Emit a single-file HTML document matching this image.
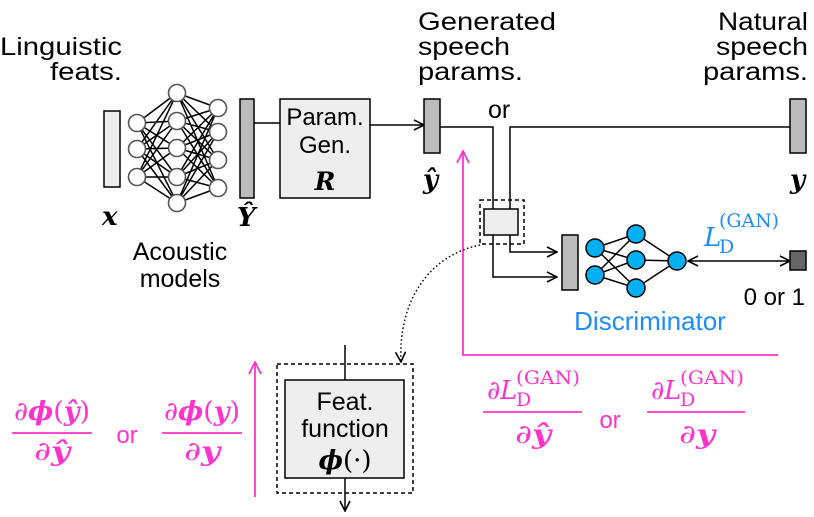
<!DOCTYPE html>
<html><head><meta charset="utf-8"><style>
html,body{margin:0;padding:0;background:#fff;width:814px;height:517px;overflow:hidden}
text{font-family:"Liberation Sans",sans-serif}
.m{font-family:"DejaVu Serif","Liberation Serif",serif;font-style:italic;font-weight:bold}
.s{font-family:"DejaVu Serif","Liberation Serif",serif}
</style></head><body>
<svg width="814" height="517" viewBox="0 0 814 517" xmlns="http://www.w3.org/2000/svg">
<defs>
<marker id="a" markerWidth="12" markerHeight="12" refX="11" refY="6" orient="auto" markerUnits="userSpaceOnUse"><path d="M1,1 L11,6 L1,11" fill="none" stroke="#000" stroke-width="1.6"/></marker>
<marker id="ab" markerWidth="12" markerHeight="12" refX="1" refY="6" orient="auto" markerUnits="userSpaceOnUse"><path d="M11,1 L1,6 L11,11" fill="none" stroke="#000" stroke-width="1.6"/></marker>
<marker id="ap" markerWidth="14" markerHeight="14" refX="13" refY="7" orient="auto" markerUnits="userSpaceOnUse"><path d="M1,1 L13,7 L1,13" fill="none" stroke="#ff33cc" stroke-width="1.8"/></marker>
</defs>
<g font-size="25" fill="#000">
<text x="122" y="55" text-anchor="end" textLength="122" lengthAdjust="spacingAndGlyphs">Linguistic</text>
<text x="122" y="80" text-anchor="end" textLength="72" lengthAdjust="spacingAndGlyphs">feats.</text>
<text x="418" y="30" textLength="138" lengthAdjust="spacingAndGlyphs">Generated</text>
<text x="418" y="55" textLength="92" lengthAdjust="spacingAndGlyphs">speech</text>
<text x="418" y="80" textLength="105" lengthAdjust="spacingAndGlyphs">params.</text>
<text x="808" y="30" text-anchor="end" textLength="90" lengthAdjust="spacingAndGlyphs">Natural</text>
<text x="808" y="55" text-anchor="end" textLength="92" lengthAdjust="spacingAndGlyphs">speech</text>
<text x="808" y="80" text-anchor="end" textLength="105" lengthAdjust="spacingAndGlyphs">params.</text>
<text x="488" y="118">or</text>
<text x="180" y="260" text-anchor="middle">Acoustic</text>
<text x="180" y="287" text-anchor="middle">models</text>
</g>
<rect x="104" y="111" width="16" height="76" fill="#eee" stroke="#000" stroke-width="1.5"/>
<text class="m" x="102" y="225" font-size="26">x</text>
<g stroke="#000" stroke-width="1.5">
<path d="M137,123L177,93M137,123L177,121M137,123L177,148M137,123L177,177M137,123L177,203
M137,149L177,93M137,149L177,121M137,149L177,148M137,149L177,177M137,149L177,203
M137,177L177,93M137,177L177,121M137,177L177,148M137,177L177,177M137,177L177,203
M177,93L218,108M177,93L218,132M177,93L218,160M177,93L218,188
M177,121L218,108M177,121L218,132M177,121L218,160M177,121L218,188
M177,148L218,108M177,148L218,132M177,148L218,160M177,148L218,188
M177,177L218,108M177,177L218,132M177,177L218,160M177,177L218,188
M177,203L218,108M177,203L218,132M177,203L218,160M177,203L218,188"/>
</g>
<g fill="#fff" stroke="#555" stroke-width="1.6">
<circle cx="137" cy="123" r="8.5"/><circle cx="137" cy="149" r="8.5"/><circle cx="137" cy="177" r="8.5"/>
<circle cx="177" cy="93" r="8.5"/><circle cx="177" cy="121" r="8.5"/><circle cx="177" cy="148" r="8.5"/><circle cx="177" cy="177" r="8.5"/><circle cx="177" cy="203" r="8.5"/>
<circle cx="218" cy="108" r="8.5"/><circle cx="218" cy="132" r="8.5"/><circle cx="218" cy="160" r="8.5"/><circle cx="218" cy="188" r="8.5"/>
</g>
<rect x="240" y="99" width="14" height="99" fill="#bbb" stroke="#000" stroke-width="1.5"/>
<text class="m" x="237" y="226" font-size="26">Ŷ</text>
<line x1="254" y1="123" x2="280" y2="123" stroke="#000" stroke-width="1.5"/>
<rect x="280" y="99" width="90" height="99" fill="#eee" stroke="#000" stroke-width="1.5"/>
<text x="325" y="125" font-size="24" text-anchor="middle">Param.</text>
<text x="325" y="153" font-size="24" text-anchor="middle">Gen.</text>
<text class="m" x="325" y="190" font-size="25" text-anchor="middle">R</text>
<line x1="370" y1="125" x2="424" y2="125" stroke="#000" stroke-width="1.5" marker-end="url(#a)"/>
<rect x="424" y="99" width="16" height="54" fill="#bbb" stroke="#000" stroke-width="1.5"/>
<text class="m" x="423" y="188" font-size="26">ŷ</text>
<rect x="790" y="99" width="16" height="54" fill="#bbb" stroke="#000" stroke-width="1.5"/>
<text class="m" x="790" y="188" font-size="26">y</text>
<g stroke="#000" stroke-width="1.5" fill="none">
<path d="M440,127 H493 V277 H557" marker-end="url(#a)"/>
<path d="M790,127 H510 V252 H557" marker-end="url(#a)"/>
</g>
<rect x="480" y="200" width="44" height="44" fill="none" stroke="#000" stroke-width="1.5" stroke-dasharray="4,3"/>
<rect x="484" y="209" width="34" height="26" fill="#eee" stroke="#000" stroke-width="1.5"/>
<path d="M778,355 H463 V151" fill="none" stroke="#ff33cc" stroke-width="1.8" marker-end="url(#ap)"/>
<line x1="255" y1="497" x2="255" y2="362" stroke="#ff33cc" stroke-width="1.8" marker-end="url(#ap)"/>
<path d="M480,245 C430,255 398,300 401,362" fill="none" stroke="#000" stroke-width="1.5" stroke-dasharray="1.5,2.5" marker-end="url(#a)"/>
<rect x="562" y="235" width="16" height="55" fill="#bbb" stroke="#000" stroke-width="1.5"/>
<g stroke="#000" stroke-width="1.5">
<path d="M595,248L636,234M595,248L636,260M595,248L636,288M595,275L636,234M595,275L636,260M595,275L636,288M636,234L677,261M636,260L677,261M636,288L677,261"/>
</g>
<g fill="#00b0f0" stroke="#000" stroke-width="1.5">
<circle cx="595" cy="248" r="9"/><circle cx="595" cy="275" r="9"/>
<circle cx="636" cy="234" r="9"/><circle cx="636" cy="260" r="9"/><circle cx="636" cy="288" r="9"/>
<circle cx="677" cy="261" r="9"/>
</g>
<line x1="688" y1="261" x2="790" y2="261" stroke="#000" stroke-width="1.5" marker-start="url(#ab)" marker-end="url(#a)"/>
<rect x="790" y="251" width="16" height="19" fill="#666" stroke="#000" stroke-width="1.5"/>
<g fill="#1a8cff">
<text class="s" x="704" y="246" font-size="26" font-style="italic">L</text>
<text class="s" x="719" y="253" font-size="19">D</text>
<text class="s" x="719" y="227" font-size="19" textLength="60" lengthAdjust="spacingAndGlyphs">(GAN)</text>
</g>
<text x="805" y="305" font-size="24" text-anchor="end">0 or 1</text>
<text x="650" y="330" font-size="26" fill="#1a8cff" text-anchor="middle">Discriminator</text>
<line x1="345" y1="345" x2="345" y2="380" stroke="#000" stroke-width="1.5"/>
<rect x="277" y="364" width="136" height="129" fill="none" stroke="#000" stroke-width="1.5" stroke-dasharray="4,3"/>
<rect x="285" y="380" width="119" height="98" fill="#eee" stroke="#000" stroke-width="1.5"/>
<text x="345" y="410" font-size="25" text-anchor="middle">Feat.</text>
<text x="345" y="437" font-size="25" text-anchor="middle">function</text>
<text class="s" x="345" y="469" font-size="26" text-anchor="middle"><tspan font-weight="bold" font-style="italic">ϕ</tspan>(·)</text>
<line x1="345" y1="478" x2="345" y2="511" stroke="#000" stroke-width="1.5" marker-end="url(#a)"/>
<g fill="#ff33cc" stroke="none">
<text class="s" x="14" y="420" font-size="26" textLength="76" lengthAdjust="spacingAndGlyphs">∂<tspan font-weight="bold" font-style="italic">ϕ</tspan>(<tspan font-weight="bold" font-style="italic">ŷ</tspan>)</text>
<text class="s" x="34" y="460" font-size="26" textLength="36" lengthAdjust="spacingAndGlyphs">∂<tspan font-weight="bold" font-style="italic">ŷ</tspan></text>
<text x="127" y="443" font-size="24" text-anchor="middle">or</text>
<text class="s" x="164" y="420" font-size="26" textLength="76" lengthAdjust="spacingAndGlyphs">∂<tspan font-weight="bold" font-style="italic">ϕ</tspan>(<tspan font-weight="bold" font-style="italic">y</tspan>)</text>
<text class="s" x="184" y="460" font-size="26" textLength="36" lengthAdjust="spacingAndGlyphs">∂<tspan font-weight="bold" font-style="italic">y</tspan></text>
<text class="s" x="487" y="399" font-size="26" font-style="italic" textLength="30" lengthAdjust="spacingAndGlyphs">∂L</text>
<text class="s" x="516" y="406" font-size="19">D</text>
<text class="s" x="516" y="384" font-size="19" textLength="64" lengthAdjust="spacingAndGlyphs">(GAN)</text>
<text class="s" x="515" y="443" font-size="26" textLength="36" lengthAdjust="spacingAndGlyphs">∂<tspan font-weight="bold" font-style="italic">ŷ</tspan></text>
<text x="610" y="428" font-size="24" text-anchor="middle">or</text>
<text class="s" x="651" y="399" font-size="26" font-style="italic" textLength="30" lengthAdjust="spacingAndGlyphs">∂L</text>
<text class="s" x="680" y="406" font-size="19">D</text>
<text class="s" x="680" y="384" font-size="19" textLength="64" lengthAdjust="spacingAndGlyphs">(GAN)</text>
<text class="s" x="679" y="443" font-size="26" textLength="36" lengthAdjust="spacingAndGlyphs">∂<tspan font-weight="bold" font-style="italic">y</tspan></text>
</g>
<g stroke="#ff33cc" stroke-width="1.8">
<line x1="12" y1="433" x2="92" y2="433"/><line x1="162" y1="433" x2="242" y2="433"/>
<line x1="483" y1="412" x2="582" y2="412"/><line x1="647" y1="412" x2="745" y2="412"/>
</g>
</svg>
</body></html>
